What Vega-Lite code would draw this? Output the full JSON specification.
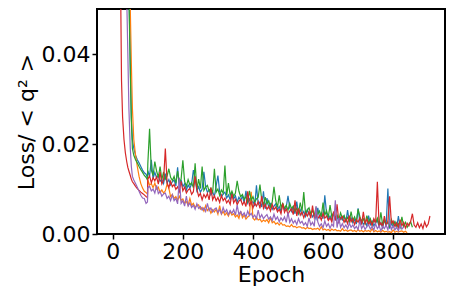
{
  "$schema": "https://vega.github.io/schema/vega-lite/v6.json",
  "width": 348,
  "height": 225,
  "autosize": {"type": "none"},
  "padding": {"left": 97, "top": 9, "right": 18, "bottom": 54},
  "background": "white",
  "config": {
    "view": {"stroke": "black", "strokeWidth": 2},
    "font": "DejaVu Sans",
    "axis": {
      "labelFont": "DejaVu Sans", "labelFontSize": 22, "labelColor": "black",
      "titleFont": "DejaVu Sans", "titleFontSize": 22, "titleFontWeight": "normal", "titleColor": "black",
      "grid": false, "domain": false, "tickColor": "black", "tickSize": 5, "tickWidth": 1.5, "labelPadding": 2
    }
  },
  "data": {"values": [
    {"e":0,"b":0.8,"o":0.8,"g":0.8,"r":0.6,"p":0.8},
    {"e":10,"b":0.5,"o":0.5,"g":0.5,"r":0.2,"p":0.4},
    {"e":20,"b":0.3,"o":0.32,"g":0.3,"r":0.07,"p":0.2},
    {"e":23,"b":0.25,"o":0.28,"g":0.25,"r":0.05,"p":0.15},
    {"e":25,"b":0.22,"o":0.25,"g":0.22,"r":0.034,"p":0.12},
    {"e":28,"b":0.18,"o":0.21,"g":0.18,"r":0.026,"p":0.1},
    {"e":32,"b":0.14,"o":0.17,"g":0.14,"r":0.021,"p":0.08},
    {"e":36,"b":0.11,"o":0.13,"g":0.11,"r":0.018,"p":0.065},
    {"e":40,"b":0.085,"o":0.1,"g":0.085,"r":0.016,"p":0.052},
    {"e":43,"b":0.07,"o":0.08,"g":0.068,"r":0.0148,"p":0.04},
    {"e":46,"b":0.055,"o":0.065,"g":0.053,"r":0.014,"p":0.028},
    {"e":50,"b":0.038,"o":0.05,"g":0.036,"r":0.013,"p":0.019},
    {"e":53,"b":0.026,"o":0.038,"g":0.025,"r":0.0122,"p":0.015},
    {"e":56,"b":0.021,"o":0.028,"g":0.019,"r":0.0116,"p":0.0128},
    {"e":60,"b":0.019,"o":0.021,"g":0.0175,"r":0.0112,"p":0.012},
    {"e":65,"b":0.0175,"o":0.0175,"g":0.0165,"r":0.0106,"p":0.0112},
    {"e":70,"b":0.0165,"o":0.015,"g":0.0158,"r":0.0101,"p":0.0104},
    {"e":75,"b":0.0158,"o":0.0128,"g":0.015,"r":0.0097,"p":0.0095},
    {"e":80,"b":0.015,"o":0.0112,"g":0.0143,"r":0.0093,"p":0.0086},
    {"e":85,"b":0.0142,"o":0.0102,"g":0.0137,"r":0.009,"p":0.008},
    {"e":90,"b":0.0136,"o":0.0095,"g":0.013,"r":0.0087,"p":0.0079},
    {"e":95,"b":0.0133,"o":0.0092,"g":0.0126,"r":0.0083,"p":0.0068},
    {"e":99,"b":0.0125,"o":0.0089,"g":0.012,"r":0.0081,"p":0.0071},
    {"e":100,"b":0.0141,"o":0.012,"g":0.0156,"r":0.0122,"p":0.0103},
    {"e":105,"b":0.0128,"o":0.0109,"g":0.0234,"r":0.0129,"p":0.0106},
    {"e":110,"b":0.0165,"o":0.0112,"g":0.0142,"r":0.0114,"p":0.0096},
    {"e":115,"b":0.0123,"o":0.0103,"g":0.013,"r":0.0125,"p":0.01},
    {"e":120,"b":0.0137,"o":0.0113,"g":0.0161,"r":0.0118,"p":0.0091},
    {"e":125,"b":0.0125,"o":0.01,"g":0.014,"r":0.0127,"p":0.0108},
    {"e":130,"b":0.0129,"o":0.0104,"g":0.0126,"r":0.0111,"p":0.009},
    {"e":135,"b":0.0117,"o":0.0092,"g":0.015,"r":0.0138,"p":0.0095},
    {"e":140,"b":0.0122,"o":0.0098,"g":0.0121,"r":0.0111,"p":0.0084},
    {"e":145,"b":0.0112,"o":0.0091,"g":0.0138,"r":0.0119,"p":0.0089},
    {"e":150,"b":0.0134,"o":0.0096,"g":0.0122,"r":0.019,"p":0.0091},
    {"e":155,"b":0.0113,"o":0.0111,"g":0.0129,"r":0.0114,"p":0.0079},
    {"e":160,"b":0.0121,"o":0.0102,"g":0.0145,"r":0.0103,"p":0.0084},
    {"e":165,"b":0.0109,"o":0.0083,"g":0.0126,"r":0.0117,"p":0.0074},
    {"e":170,"b":0.0116,"o":0.0088,"g":0.0119,"r":0.0105,"p":0.0087},
    {"e":175,"b":0.012,"o":0.0079,"g":0.0128,"r":0.011,"p":0.0074},
    {"e":180,"b":0.0107,"o":0.0083,"g":0.0113,"r":0.0099,"p":0.0079},
    {"e":185,"b":0.0148,"o":0.0075,"g":0.014,"r":0.0105,"p":0.0067},
    {"e":190,"b":0.0103,"o":0.0084,"g":0.0113,"r":0.0094,"p":0.0125},
    {"e":195,"b":0.012,"o":0.0075,"g":0.0122,"r":0.0117,"p":0.0068},
    {"e":200,"b":0.0105,"o":0.0078,"g":0.0164,"r":0.0096,"p":0.0074},
    {"e":205,"b":0.0112,"o":0.0069,"g":0.0117,"r":0.0104,"p":0.0062},
    {"e":210,"b":0.0098,"o":0.0072,"g":0.0106,"r":0.0091,"p":0.0084},
    {"e":215,"b":0.0109,"o":0.0064,"g":0.0121,"r":0.0098,"p":0.0062},
    {"e":220,"b":0.0102,"o":0.0079,"g":0.0109,"r":0.0101,"p":0.0069},
    {"e":225,"b":0.0111,"o":0.0064,"g":0.0114,"r":0.0088,"p":0.0059},
    {"e":230,"b":0.0142,"o":0.0068,"g":0.0103,"r":0.0094,"p":0.0064},
    {"e":235,"b":0.0123,"o":0.0059,"g":0.0157,"r":0.0128,"p":0.0055},
    {"e":240,"b":0.0096,"o":0.0063,"g":0.0099,"r":0.0099,"p":0.0067},
    {"e":245,"b":0.0105,"o":0.0065,"g":0.0122,"r":0.0084,"p":0.0057},
    {"e":250,"b":0.0093,"o":0.0055,"g":0.0101,"r":0.009,"p":0.0061},
    {"e":255,"b":0.01,"o":0.0059,"g":0.015,"r":0.0076,"p":0.0053},
    {"e":260,"b":0.0138,"o":0.0051,"g":0.0097,"r":0.0088,"p":0.0058},
    {"e":265,"b":0.0105,"o":0.0063,"g":0.0104,"r":0.0081,"p":0.005},
    {"e":270,"b":0.0093,"o":0.0052,"g":0.0108,"r":0.009,"p":0.0068},
    {"e":275,"b":0.0098,"o":0.0057,"g":0.0095,"r":0.0076,"p":0.0052},
    {"e":280,"b":0.0087,"o":0.0046,"g":0.0102,"r":0.0103,"p":0.0058},
    {"e":285,"b":0.0093,"o":0.0054,"g":0.0091,"r":0.0076,"p":0.0049},
    {"e":290,"b":0.0084,"o":0.0049,"g":0.0145,"r":0.0085,"p":0.0055},
    {"e":295,"b":0.0107,"o":0.0055,"g":0.0093,"r":0.0074,"p":0.0058},
    {"e":300,"b":0.013,"o":0.0044,"g":0.01,"r":0.0081,"p":0.0048},
    {"e":305,"b":0.0094,"o":0.0063,"g":0.0086,"r":0.007,"p":0.0054},
    {"e":310,"b":0.0082,"o":0.0044,"g":0.0098,"r":0.0086,"p":0.0045},
    {"e":315,"b":0.0089,"o":0.005,"g":0.0091,"r":0.0074,"p":0.0059},
    {"e":320,"b":0.0093,"o":0.0042,"g":0.0152,"r":0.008,"p":0.0048},
    {"e":325,"b":0.008,"o":0.0047,"g":0.0086,"r":0.0069,"p":0.0054},
    {"e":330,"b":0.0087,"o":0.004,"g":0.0113,"r":0.0075,"p":0.0043},
    {"e":335,"b":0.0076,"o":0.005,"g":0.0086,"r":0.0066,"p":0.0052},
    {"e":340,"b":0.0093,"o":0.0042,"g":0.0095,"r":0.0089,"p":0.0046},
    {"e":345,"b":0.0078,"o":0.0045,"g":0.0084,"r":0.0069,"p":0.0054},
    {"e":350,"b":0.0085,"o":0.0038,"g":0.0091,"r":0.0077,"p":0.0042},
    {"e":355,"b":0.0071,"o":0.0042,"g":0.0118,"r":0.0065,"p":0.0064},
    {"e":360,"b":0.0082,"o":0.0035,"g":0.0095,"r":0.0073,"p":0.0043},
    {"e":365,"b":0.0075,"o":0.0051,"g":0.0083,"r":0.0077,"p":0.005},
    {"e":370,"b":0.0084,"o":0.0036,"g":0.0088,"r":0.0065,"p":0.0041},
    {"e":375,"b":0.0069,"o":0.0042,"g":0.0077,"r":0.0072,"p":0.0047},
    {"e":380,"b":0.0096,"o":0.0033,"g":0.0083,"r":0.0061,"p":0.0038},
    {"e":385,"b":0.0069,"o":0.0038,"g":0.0073,"r":0.0095,"p":0.0051},
    {"e":390,"b":0.0078,"o":0.0041,"g":0.0096,"r":0.0064,"p":0.0041},
    {"e":395,"b":0.0066,"o":0.0094,"g":0.0075,"r":0.0072,"p":0.0046},
    {"e":400,"b":0.0073,"o":0.0035,"g":0.0083,"r":0.0058,"p":0.0037},
    {"e":405,"b":0.0062,"o":0.0031,"g":0.0071,"r":0.0069,"p":0.0042},
    {"e":410,"b":0.0108,"o":0.0037,"g":0.0078,"r":0.0062,"p":0.0034},
    {"e":415,"b":0.0066,"o":0.0031,"g":0.0082,"r":0.0072,"p":0.0053},
    {"e":420,"b":0.0071,"o":0.0033,"g":0.011,"r":0.0057,"p":0.0036},
    {"e":425,"b":0.006,"o":0.0027,"g":0.0076,"r":0.0084,"p":0.0043},
    {"e":430,"b":0.0095,"o":0.0031,"g":0.0065,"r":0.0057,"p":0.0034},
    {"e":435,"b":0.0056,"o":0.0028,"g":0.0082,"r":0.0066,"p":0.0039},
    {"e":440,"b":0.008,"o":0.0032,"g":0.0067,"r":0.0055,"p":0.0043},
    {"e":445,"b":0.0059,"o":0.0025,"g":0.0074,"r":0.0062,"p":0.0033},
    {"e":450,"b":0.0067,"o":0.0036,"g":0.006,"r":0.0051,"p":0.0038},
    {"e":455,"b":0.0055,"o":0.0025,"g":0.0071,"r":0.0066,"p":0.003},
    {"e":460,"b":0.0062,"o":0.0028,"g":0.0105,"r":0.0054,"p":0.0044},
    {"e":465,"b":0.0067,"o":0.0022,"g":0.0074,"r":0.006,"p":0.0032},
    {"e":470,"b":0.0054,"o":0.0025,"g":0.0059,"r":0.0049,"p":0.0038},
    {"e":475,"b":0.0061,"o":0.002,"g":0.0086,"r":0.0055,"p":0.0027},
    {"e":480,"b":0.005,"o":0.0025,"g":0.0059,"r":0.0045,"p":0.0036},
    {"e":485,"b":0.0067,"o":0.002,"g":0.0068,"r":0.0068,"p":0.003},
    {"e":490,"b":0.0053,"o":0.0021,"g":0.0057,"r":0.0048,"p":0.0038},
    {"e":495,"b":0.006,"o":0.0017,"g":0.0064,"r":0.0056,"p":0.0026},
    {"e":500,"b":0.0085,"o":0.0018,"g":0.0053,"r":0.0044,"p":0.0048},
    {"e":505,"b":0.0057,"o":0.0016,"g":0.0068,"r":0.0051,"p":0.0026},
    {"e":510,"b":0.005,"o":0.0021,"g":0.0056,"r":0.0056,"p":0.0034},
    {"e":515,"b":0.006,"o":0.0016,"g":0.0062,"r":0.0043,"p":0.0024},
    {"e":520,"b":0.0045,"o":0.0017,"g":0.0051,"r":0.0075,"p":0.003},
    {"e":525,"b":0.0072,"o":0.0014,"g":0.0057,"r":0.004,"p":0.0021},
    {"e":530,"b":0.0045,"o":0.0016,"g":0.0047,"r":0.0057,"p":0.0034},
    {"e":535,"b":0.0054,"o":0.0016,"g":0.007,"r":0.0042,"p":0.0024},
    {"e":540,"b":0.0043,"o":0.0013,"g":0.005,"r":0.0049,"p":0.0028},
    {"e":545,"b":0.005,"o":0.0014,"g":0.0093,"r":0.0036,"p":0.002},
    {"e":550,"b":0.0039,"o":0.0011,"g":0.0046,"r":0.0047,"p":0.0025},
    {"e":555,"b":0.0054,"o":0.0015,"g":0.0053,"r":0.004,"p":0.0017},
    {"e":560,"b":0.0043,"o":0.0012,"g":0.0058,"r":0.005,"p":0.0036},
    {"e":565,"b":0.0048,"o":0.0013,"g":0.0045,"r":0.0035,"p":0.002},
    {"e":570,"b":0.0038,"o":0.001,"g":0.0052,"r":0.0063,"p":0.0026},
    {"e":575,"b":0.0044,"o":0.0012,"g":0.0042,"r":0.0036,"p":0.0017},
    {"e":580,"b":0.0034,"o":0.0011,"g":0.0059,"r":0.0045,"p":0.0062},
    {"e":585,"b":0.0058,"o":0.0013,"g":0.0044,"r":0.0034,"p":0.0027},
    {"e":590,"b":0.0037,"o":0.0009,"g":0.0051,"r":0.0041,"p":0.0017},
    {"e":595,"b":0.0046,"o":0.0016,"g":0.0038,"r":0.0031,"p":0.0023},
    {"e":600,"b":0.0034,"o":0.0009,"g":0.007,"r":0.0046,"p":0.0014},
    {"e":605,"b":0.0086,"o":0.0011,"g":0.0042,"r":0.0035,"p":0.0029},
    {"e":610,"b":0.0046,"o":0.0008,"g":0.0052,"r":0.004,"p":0.0017},
    {"e":615,"b":0.0033,"o":0.001,"g":0.0037,"r":0.003,"p":0.0023},
    {"e":620,"b":0.004,"o":0.0007,"g":0.0064,"r":0.0036,"p":0.0013},
    {"e":625,"b":0.003,"o":0.0011,"g":0.0038,"r":0.0027,"p":0.0022},
    {"e":630,"b":0.0047,"o":0.0008,"g":0.0047,"r":0.005,"p":0.0017},
    {"e":635,"b":0.0032,"o":0.001,"g":0.0035,"r":0.003,"p":0.0075},
    {"e":640,"b":0.0039,"o":0.0007,"g":0.0042,"r":0.0066,"p":0.0014},
    {"e":645,"b":0.0026,"o":0.0008,"g":0.0032,"r":0.0027,"p":0.0036},
    {"e":650,"b":0.0037,"o":0.0006,"g":0.0047,"r":0.0034,"p":0.0015},
    {"e":655,"b":0.0031,"o":0.0012,"g":0.0035,"r":0.0039,"p":0.0023},
    {"e":660,"b":0.004,"o":0.0007,"g":0.0041,"r":0.0026,"p":0.0014},
    {"e":665,"b":0.0026,"o":0.0009,"g":0.003,"r":0.0034,"p":0.002},
    {"e":670,"b":0.0053,"o":0.0006,"g":0.0037,"r":0.0023,"p":0.0012},
    {"e":675,"b":0.0027,"o":0.0008,"g":0.0027,"r":0.0041,"p":0.0024},
    {"e":680,"b":0.0036,"o":0.0009,"g":0.005,"r":0.0027,"p":0.0015},
    {"e":685,"b":0.0025,"o":0.0006,"g":0.003,"r":0.0034,"p":0.002},
    {"e":690,"b":0.0032,"o":0.0008,"g":0.0038,"r":0.0021,"p":0.0012},
    {"e":695,"b":0.0022,"o":0.0005,"g":0.0027,"r":0.0032,"p":0.0017},
    {"e":700,"b":0.0057,"o":0.001,"g":0.0055,"r":0.0026,"p":0.001},
    {"e":705,"b":0.0026,"o":0.0006,"g":0.0039,"r":0.0036,"p":0.0029},
    {"e":710,"b":0.0031,"o":0.0008,"g":0.0026,"r":0.0021,"p":0.0012},
    {"e":715,"b":0.0021,"o":0.0005,"g":0.0034,"r":0.0049,"p":0.0019},
    {"e":720,"b":0.0027,"o":0.0008,"g":0.0023,"r":0.0023,"p":0.001},
    {"e":725,"b":0.0018,"o":0.0006,"g":0.0041,"r":0.0033,"p":0.0017},
    {"e":730,"b":0.0041,"o":0.0008,"g":0.0026,"r":0.0021,"p":0.002},
    {"e":735,"b":0.0021,"o":0.0005,"g":0.0034,"r":0.0029,"p":0.0011},
    {"e":740,"b":0.0029,"o":0.0012,"g":0.002,"r":0.0019,"p":0.0017},
    {"e":745,"b":0.0018,"o":0.0005,"g":0.0032,"r":0.0034,"p":0.0009},
    {"e":750,"b":0.0025,"o":0.0008,"g":0.0025,"r":0.0023,"p":0.0023},
    {"e":755,"b":0.003,"o":0.0005,"g":0.0035,"r":0.0116,"p":0.0012},
    {"e":760,"b":0.0017,"o":0.0007,"g":0.002,"r":0.0018,"p":0.0018},
    {"e":765,"b":0.0025,"o":0.0004,"g":0.0048,"r":0.0025,"p":0.0007},
    {"e":770,"b":0.0014,"o":0.0008,"g":0.0021,"r":0.0016,"p":0.0017},
    {"e":775,"b":0.0032,"o":0.0005,"g":0.0031,"r":0.004,"p":0.0012},
    {"e":780,"b":0.0018,"o":0.0006,"g":0.002,"r":0.0019,"p":0.002},
    {"e":785,"b":0.0101,"o":0.0004,"g":0.0027,"r":0.0028,"p":0.0009},
    {"e":790,"b":0.0012,"o":0.0005,"g":0.0017,"r":0.0084,"p":0.0031},
    {"e":795,"b":0.0023,"o":0.0003,"g":0.0032,"r":0.0024,"p":0.001},
    {"e":800,"b":0.0017,"o":0.0009,"g":0.0021,"r":0.0029,"p":0.0018},
    {"e":805,"b":0.0027,"o":0.0004,"g":0.0027,"r":0.0017,"p":0.0009},
    {"e":810,"b":0.0013,"o":0.0006,"g":0.0016,"r":0.0025,"p":0.0015},
    {"e":815,"b":0.004,"o":0.0004,"g":0.0023,"r":0.0014,"p":0.0007},
    {"e":820,"b":0.0014,"o":0.0006,"g":0.0014,"r":0.0032,"p":0.002},
    {"e":825,"o":0.0007,"g":0.0038,"r":0.0018,"p":0.0011},
    {"e":830,"o":0.0004,"g":0.0017,"r":0.0026,"p":0.0016},
    {"e":835,"o":0.0006,"g":0.0026,"r":0.0013},
    {"e":840,"o":0.0003,"g":0.0015,"r":0.0024},
    {"e":845,"g":0.0022,"r":0.0018},
    {"e":850,"g":0.0027,"r":0.0028},
    {"e":855,"g":0.0015,"r":0.0045},
    {"e":860,"r":0.002},
    {"e":865,"r":0.0015},
    {"e":870,"r":0.0025},
    {"e":875,"r":0.0014},
    {"e":880,"r":0.0022},
    {"e":885,"r":0.0012},
    {"e":890,"r":0.0027},
    {"e":895,"r":0.0016},
    {"e":900,"r":0.0022},
    {"e":905,"r":0.004}
  ]},
  "transform": [
    {"fold": ["b", "o", "g", "r", "p"], "as": ["s", "v"]},
    {"filter": "isValid(datum.v)"}
  ],
  "mark": {"type": "line", "strokeWidth": 1.2, "clip": true},
  "encoding": {
    "x": {"field": "e", "type": "quantitative", "title": "Epoch",
      "scale": {"domain": [-45, 948], "nice": false, "zero": false},
      "axis": {"values": [0, 200, 400, 600, 800], "titlePadding": 2}},
    "y": {"field": "v", "type": "quantitative", "title": "Loss/ < q² >",
      "scale": {"domain": [0, 0.05], "nice": false},
      "axis": {"values": [0, 0.02, 0.04], "format": ".2f", "titlePadding": 3}},
    "color": {"field": "s", "type": "nominal", "legend": null,
      "scale": {"domain": ["b", "o", "g", "r", "p"], "range": ["#1f77b4", "#ff7f0e", "#2ca02c", "#d62728", "#9467bd"]}},
    "order": {"field": "e", "type": "quantitative"}
  }
}
